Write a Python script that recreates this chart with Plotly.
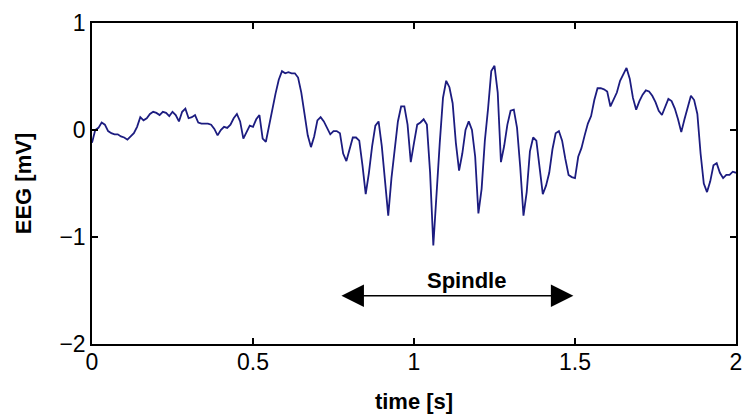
import numpy as np
import plotly.graph_objects as go

# sampling: 100 Hz, 0..2 s
fs = 100
eeg_mv = [
    -0.12, 0.00, 0.02, 0.07, 0.05, -0.01, -0.03, -0.04, -0.04, -0.06,
    -0.07, -0.09, -0.06, -0.03, 0.03, 0.12, 0.09, 0.11, 0.15, 0.17,
    0.16, 0.14, 0.17, 0.16, 0.13, 0.17, 0.14, 0.08, 0.17, 0.20,
    0.11, 0.12, 0.14, 0.07, 0.06, 0.06, 0.06, 0.05, 0.01, -0.05,
    0.00, 0.03, 0.02, 0.05, 0.11, 0.15, 0.08, -0.08, -0.02, 0.04,
    0.03, 0.10, 0.14, -0.08, -0.11, 0.05, 0.20, 0.34, 0.47, 0.55,
    0.53, 0.54, 0.53, 0.53, 0.49, 0.35, 0.15, -0.05, -0.16, -0.06,
    0.09, 0.12, 0.08, 0.02, -0.04, -0.01, -0.01, -0.03, -0.22, -0.29,
    -0.18, -0.07, -0.07, -0.10, -0.33, -0.60, -0.40, -0.15, 0.04, 0.08,
    -0.15, -0.45, -0.80, -0.45, -0.20, 0.08, 0.22, 0.22, 0.05, -0.30,
    -0.12, 0.05, 0.07, 0.10, 0.05, -0.40, -1.08, -0.55, -0.12, 0.30,
    0.46, 0.40, 0.25, -0.12, -0.38, -0.22, 0.00, 0.08, 0.00, -0.25,
    -0.78, -0.55, -0.10, 0.20, 0.55, 0.60, 0.35, -0.30, -0.15, 0.05,
    0.18, 0.19, 0.02, -0.35, -0.80, -0.58, -0.20, -0.07, -0.10, -0.35,
    -0.60, -0.52, -0.40, -0.18, -0.03, -0.01, -0.10, -0.27, -0.42, -0.44,
    -0.45, -0.25, -0.17, -0.05, 0.06, 0.13, 0.28, 0.39, 0.39, 0.38,
    0.36, 0.22, 0.28, 0.35, 0.46, 0.52, 0.58, 0.48, 0.30, 0.19,
    0.27, 0.33, 0.37, 0.36, 0.32, 0.26, 0.18, 0.14, 0.22, 0.29,
    0.27, 0.20, 0.10, -0.02, 0.10, 0.20, 0.32, 0.28, 0.15, -0.22,
    -0.50, -0.58, -0.48, -0.33, -0.31, -0.40, -0.45, -0.42, -0.42, -0.39,
    -0.40,
]
time_s = [i / fs for i in range(len(eeg_mv))]

x_ticks = [0, 0.5, 1, 1.5, 2]
x_ticklabels = ["0", "0.5", "1", "1.5", "2"]
y_ticks = [-2, -1, 0, 1]

spindle_start, spindle_end, spindle_y = 0.77, 1.495, -1.55
spindle_label = "Spindle"
spindle_label_y = -1.41

font_family = "Liberation Sans, Arial, Helvetica, sans-serif"

fig = go.Figure()
fig.add_trace(go.Scatter(
    x=time_s, y=eeg_mv, mode="lines",
    line=dict(color="#1c1c80", width=1.8),
    showlegend=False, hoverinfo="skip",
))

fig.add_annotation(
    x=spindle_end, y=spindle_y, ax=spindle_start, ay=spindle_y,
    xref="x", yref="y", axref="x", ayref="y",
    text="", showarrow=True, arrowhead=2, startarrowhead=2,
    arrowside="end+start", arrowsize=3, startarrowsize=3,
    arrowwidth=1.5, arrowcolor="black", standoff=0, startstandoff=0,
)
fig.add_annotation(
    x=(spindle_start + spindle_end) / 2 + 0.03, y=spindle_label_y,
    xref="x", yref="y", text="<b>%s</b>" % spindle_label, showarrow=False,
    font=dict(family=font_family, size=22, color="black"),
)

axis_common = dict(
    showline=True, linecolor="black", linewidth=1.5, mirror="ticks",
    ticks="inside", ticklen=6, tickwidth=1.5, tickcolor="black",
    showgrid=False, zeroline=False,
    tickfont=dict(family=font_family, size=23, color="black"),
)

fig.update_xaxes(
    range=[0, 2], tickvals=x_ticks, ticktext=x_ticklabels,
    ticklabelstandoff=-3,
    title=dict(text="<b>time [s]</b>", font=dict(family=font_family, size=22, color="black"), standoff=19),
    **axis_common,
)
fig.update_yaxes(
    range=[-2, 1], tickvals=y_ticks,
    title=dict(text="<b>EEG [mV]</b>", font=dict(family=font_family, size=22, color="black"), standoff=22),
    **axis_common,
)

fig.update_layout(
    width=751, height=419,
    margin=dict(l=92, r=9, t=23, b=72),
    plot_bgcolor="white", paper_bgcolor="white",
)

fig.write_html("out.html")
